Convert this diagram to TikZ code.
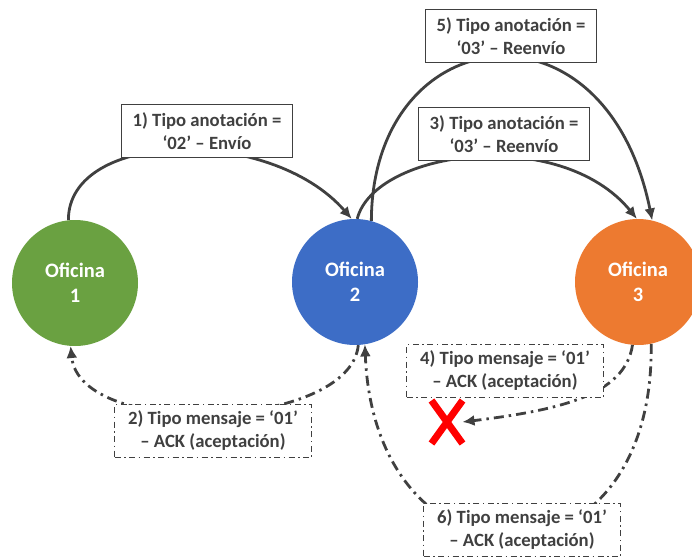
\documentclass[tikz,border=0pt]{standalone}
\usepackage{fontspec}
\setmainfont{Carlito}
\usepackage{xcolor}
\usetikzlibrary{arrows.meta,shapes.misc,positioning}
\definecolor{ofigreen}{HTML}{6AA141}
\definecolor{ofiblue}{HTML}{3D6DC6}
\definecolor{ofiorange}{HTML}{ED7A30}
\definecolor{linegray}{HTML}{404040}

\begin{document}
\begin{tikzpicture}[x=1pt,y=-1pt]

\tikzset{oficina/.style={
  circle,
  minimum size=126pt,
  inner sep=0pt,
  align=center,
  text=white,
  font=\bfseries\fontsize{20.5}{25}\selectfont
  }}
\tikzset{anot/.style={
  rectangle,
  draw=linegray, fill=white,
  line width=1.3pt,
  align=center,
  text=linegray,
  inner xsep=10pt,
  minimum height=53pt,
  minimum width=171pt,
  font=\bfseries\fontsize{18.7}{23}\selectfont
  }}
\tikzset{ack/.style={anot, minimum width=197pt, dash pattern=on 6pt off 3.5pt on 1.5pt off 3.5pt}}
\tikzset{flow/.style={draw=linegray, line width=2.8pt, -{Latex[length=12pt,width=11pt]}}}
\tikzset{flowack/.style={flow, dash pattern=on 10pt off 5pt on 2.5pt off 5pt}}

\useasboundingbox (0,0) rectangle (692,556);

\node[oficina, fill=ofigreen] (of1) at (75,283) {Oficina\\1};
\node[oficina, fill=ofiblue] (of2) at (355,282) {Oficina\\2};
\node[oficina, fill=ofiorange] (of3) at (638,282) {Oficina\\3};
\node[cross out, draw=red, line width=7pt, minimum width=24pt, minimum height=36pt, inner sep=0pt] (cruz) at (447,422) {};

% anotaciones
\path[flow] (of1.96) .. controls (68,130) and (270,125) .. (of2.93);
\path[flow] (of2.88) .. controls (375,150) and (560,125) .. (of3.91);
\path[flow] (of2.75) .. controls (372,20) and (605,-12) .. (of3.77);
% mensajes ACK
\path[flowack] (of2.-87) .. controls (350,430) and (80,440) .. (of1.-94);
\path[flowack] (of3.-95) .. controls (625,395) and (560,410) .. (cruz.east);
\path[flowack] (of3.-78) .. controls (655,600) and (375,600) .. (of2.-81);

\node[anot] (an1) at (207,131) {1) Tipo anotación =\\‘02’ – Envío};
\node[anot] (an3) at (504,134) {3) Tipo anotación =\\‘03’ – Reenvío};
\node[anot] (an5) at (511,36) {5) Tipo anotación =\\‘03’ – Reenvío};
\node[ack] (ack2) at (213,431) {2) Tipo mensaje = ‘01’\\– ACK (aceptación)};
\node[ack] (ack4) at (505,371) {4) Tipo mensaje = ‘01’\\– ACK (aceptación)};
\node[ack] (ack6) at (522,530) {6) Tipo mensaje = ‘01’\\– ACK (aceptación)};
\end{tikzpicture}
\end{document}
